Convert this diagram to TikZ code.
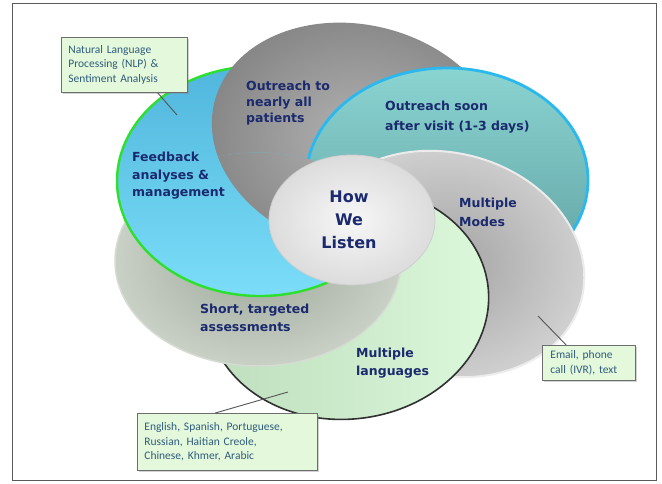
\documentclass[tikz,border=0pt]{standalone}
\usepackage{fontspec}
\setsansfont{DejaVu Sans}
\newfontfamily\callfont{Carlito}
\usetikzlibrary{shadows,calc}
\definecolor{navy}{HTML}{1B2A6E}
\definecolor{calltext}{HTML}{2F5C7C}
\definecolor{callfill}{HTML}{E4F8DC}
\definecolor{callborder}{HTML}{6E6E6E}
\definecolor{leadergray}{HTML}{555555}
\definecolor{framegray}{HTML}{5A5A5A}
\definecolor{blueA}{HTML}{50B6DC}
\definecolor{blueB}{HTML}{7BDDF8}
\definecolor{blueline}{HTML}{2EE02E}
\definecolor{outA}{HTML}{B2B2B2}
\definecolor{outB}{HTML}{858585}
\definecolor{tealA}{HTML}{8AD4D2}
\definecolor{tealM}{HTML}{79C3C2}
\definecolor{tealB}{HTML}{5E9E9F}
\definecolor{tealline}{HTML}{2BB8EE}
\definecolor{modesA}{HTML}{A3A3A3}
\definecolor{modesB}{HTML}{D3D3D3}
\definecolor{modesrim}{HTML}{ECECEC}
\definecolor{greenA}{HTML}{BCDDBB}
\definecolor{greenB}{HTML}{DDF9DC}
\definecolor{greenline}{HTML}{303030}
\definecolor{shortA}{HTML}{9DA899}
\definecolor{shortB}{HTML}{C9D0C6}
\definecolor{shortrim}{HTML}{D6DBD3}
\definecolor{centA}{HTML}{F7F7F7}
\definecolor{centB}{HTML}{DCDCDC}
\definecolor{centline}{HTML}{CFCFCF}
\newcommand\drawblue{%
  \shade[top color=blueA, bottom color=blueB] (260,181) ellipse [x radius=143, y radius=115];
  \draw[blueline, line width=2.4pt] (260,181) ellipse [x radius=143, y radius=115];}
\newcommand\drawoutreach{%
  \begin{scope}[rotate around={-14:(358,138)}]
    \shade[inner color=outA, outer color=outB] (358,138) ellipse [x radius=148, y radius=113];
  \end{scope}}
\begin{document}
\begin{tikzpicture}[x=1pt,y=-1pt,
  lbl/.style={anchor=west, inner sep=0pt, align=left, text=navy,
    font=\sffamily\bfseries\fontsize{12.5}{17}\selectfont},
  callout/.style={draw=callborder, fill=callfill, line width=0.8pt,
    anchor=north west, inner ysep=0pt, text=calltext, align=left,
    font=\callfont\fontsize{11.5}{14.5}\selectfont,
    drop shadow={opacity=0.35, shadow xshift=1.5pt, shadow yshift=-1.5pt}},
  leader/.style={draw=leadergray, line width=0.9pt}]
\useasboundingbox (0,0) rectangle (662,483);
\fill[white] (0,0) rectangle (662,483);
\draw[framegray, line width=0.8pt] (12,3) rectangle (656,480);

% Feedback (blue)
\drawblue
% Outreach to nearly all patients (gray)
\drawoutreach
% Outreach soon (teal)
\shade[top color=tealA, middle color=tealM, bottom color=tealB] (447,180) ellipse [x radius=141, y radius=112];
\draw[tealline, line width=2.8pt] (447,180) ellipse [x radius=141, y radius=112];
% Multiple Modes (gray, right)
\begin{scope}[rotate around={-15:(446,264)}]
  \shade[inner color=modesA, outer color=modesB] (446,264) ellipse [x radius=140, y radius=111];
  \draw[modesrim, line width=2pt] (446,264) ellipse [x radius=140, y radius=111];
\end{scope}
% Multiple languages (green)
\begin{scope}[rotate around={7:(348,303)}]
  \shade[left color=greenA, right color=greenB] (348,303) ellipse [x radius=141, y radius=116];
  \draw[greenline, line width=1.6pt] (348,303) ellipse [x radius=141, y radius=116];
\end{scope}
% Short, targeted assessments
\shade[inner color=shortA, outer color=shortB] (258,261) ellipse [x radius=143, y radius=105];
\draw[shortrim, line width=1.5pt] (258,261) ellipse [x radius=143, y radius=105];
% blue and outreach again, over the short one
\begin{scope}
  \clip (258,261) ellipse [x radius=146.5, y radius=108.5];
  \drawblue
  \drawoutreach
\end{scope}
% Center
\shade[inner color=centA, outer color=centB] (352,220) ellipse [x radius=83, y radius=65];
\draw[centline, line width=0.8pt] (352,220) ellipse [x radius=83, y radius=65];

% Labels
\node[lbl, font=\sffamily\bfseries\fontsize{12.5}{16}\selectfont] (lout) at (246,103) {Outreach to\\nearly all\\patients};
\node[lbl, font=\sffamily\bfseries\fontsize{12.5}{17.5}\selectfont] (lfeed) at (132,176) {Feedback\\analyses \&\\management};
\node[lbl, font=\sffamily\bfseries\fontsize{12.5}{20}\selectfont] (lsoon) at (385,117) {Outreach soon\\after visit (1-3 days)};
\node[lbl, font=\sffamily\bfseries\fontsize{12.5}{19}\selectfont] (lmodes) at (459,212.5) {Multiple\\Modes};
\node[lbl, font=\sffamily\bfseries\fontsize{12.5}{18}\selectfont] (lshort) at (200,318) {Short, targeted\\assessments};
\node[lbl, font=\sffamily\bfseries\fontsize{12.5}{18}\selectfont] (llang) at (356,363) {Multiple\\languages};
\node[lbl, anchor=center, align=center, font=\sffamily\bfseries\fontsize{16}{23}\selectfont] (lhow) at (349,220) {How\\We\\Listen};

% Callouts
\node[callout, minimum width=126pt, minimum height=55pt, inner xsep=7pt, text width=112pt] (nlp) at (61,37)
  {Natural Language\\Processing (NLP) \&\\Sentiment Analysis};
\node[callout, minimum width=180pt, minimum height=57pt, inner xsep=7pt, text width=166pt] (langs) at (137,413)
  {English, Spanish, Portuguese,\\Russian, Haitian Creole,\\Chinese, Khmer, Arabic};
\node[callout, minimum width=93pt, minimum height=35pt, inner xsep=8pt, text width=77pt] (modes) at (542,345)
  {Email, phone\\call (IVR), text};

\coordinate (nlpend) at (177,115);
\coordinate (langsend) at (288,392);
\coordinate (modesend) at (538,316);
\draw[leader] ($(nlp.south west)!0.762!(nlp.south east)$) -- (nlpend);
\draw[leader] ($(langs.north west)!0.433!(langs.north east)$) -- (langsend);
\draw[leader] ($(modes.north west)!0.258!(modes.north east)$) -- (modesend);
\end{tikzpicture}
\end{document}
